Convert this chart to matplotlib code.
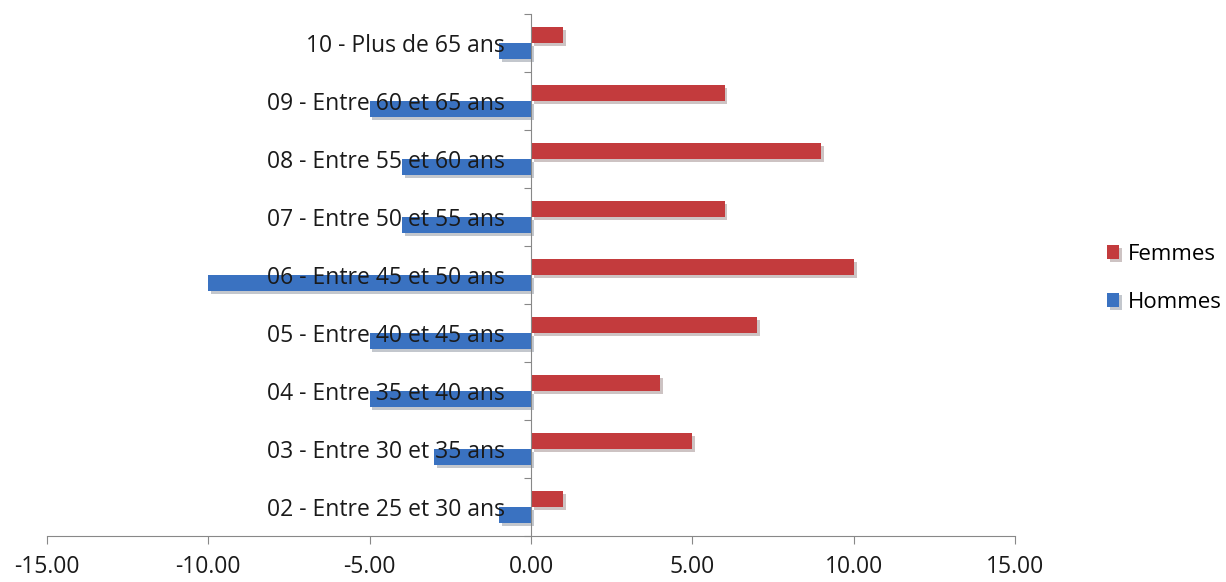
import matplotlib
matplotlib.use("Agg")
import matplotlib.pyplot as plt
import matplotlib.patheffects as pe
import numpy as np

plt.rcParams['font.family'] = ['Open Sans', 'DejaVu Sans']

categories = ["02 - Entre 25 et 30 ans", "03 - Entre 30 et 35 ans", "04 - Entre 35 et 40 ans",
              "05 - Entre 40 et 45 ans", "06 - Entre 45 et 50 ans", "07 - Entre 50 et 55 ans",
              "08 - Entre 55 et 60 ans", "09 - Entre 60 et 65 ans", "10 - Plus de 65 ans"]
femmes = [1, 5, 4, 7, 10, 6, 9, 6, 1]
hommes = [-1, -3, -5, -5, -10, -4, -4, -5, -1]
xticks = [-15, -10, -5, 0, 5, 10, 15]

fig = plt.figure(figsize=(12.26, 5.82), dpi=100)
ax = fig.add_axes([0.0383, 0.079, 0.7897, 0.897])

y = np.arange(len(categories))
h = 0.275
shadow = [pe.SimplePatchShadow(offset=(2, -2), alpha=0.25), pe.Normal()]
b1 = ax.barh(y + h / 2, femmes, height=h, color='#C33B3D', label='Femmes', zorder=1)
b2 = ax.barh(y - h / 2, hommes, height=h, color='#3A72C1', label='Hommes', zorder=1)
for b in list(b1) + list(b2):
    b.set_path_effects(shadow)

ax.set_xlim(-15, 15)
ax.set_ylim(-0.5, len(categories) - 0.5)
ax.set_xticks(xticks)
ax.set_xticklabels(["%.2f" % v for v in xticks], fontsize=16.5, color='#1a1a1a')

# y axis at zero, major ticks at category boundaries, labels at centres
ax.spines['left'].set_position(('data', 0))
ax.set_yticks(np.arange(-0.5, len(categories)))
ax.set_yticklabels([])
ax.set_yticks(y, minor=True)
ax.set_yticklabels(categories, minor=True, fontsize=16.5, color='#1a1a1a')
ax.tick_params(axis='y', which='minor', length=0, pad=19)
ax.tick_params(axis='y', which='major', length=5, color='#888888')
ax.tick_params(axis='x', length=6, color='#888888', pad=8)

for s in ['top', 'right']:
    ax.spines[s].set_visible(False)
ax.spines['left'].set_color('#888888')
ax.spines['bottom'].set_color('#888888')

handles = [b1, b2]
leg = fig.legend(handles, ['Femmes', 'Hommes'], loc='center left', bbox_to_anchor=(0.8866, 0.522),
                 frameon=False, fontsize=16, handlelength=0.55, handleheight=0.6,
                 handletextpad=0.4, labelspacing=1.2)

fig.savefig("out.png", dpi=100)
